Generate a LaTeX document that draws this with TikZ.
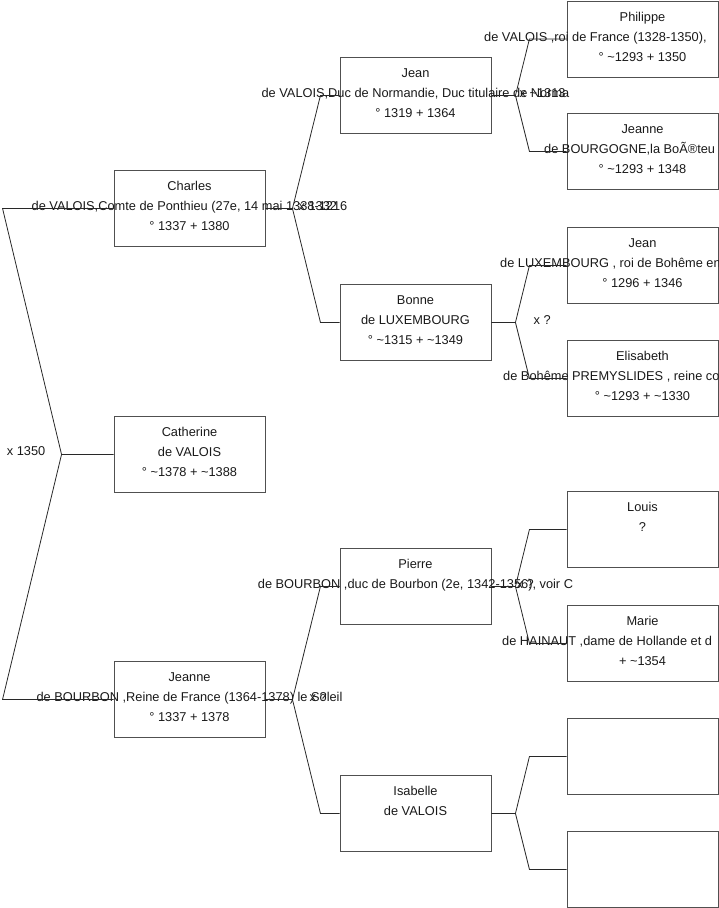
\documentclass[tikz,border=0pt]{standalone}
\usepackage{fontspec}
\setmainfont{Liberation Sans}
\usepackage{xcolor}
\usetikzlibrary{calc}
\definecolor{boxgray}{RGB}{80,80,80}
\definecolor{linkgray}{RGB}{40,40,40}
\definecolor{inkgray}{RGB}{25,25,25}
\newcommand{\abt}{\textasciitilde}

\begin{document}
\begin{tikzpicture}[
  x=1pt, y=-1pt,
  font=\fontsize{12.8}{15}\selectfont,
  person/.style={rectangle, draw=boxgray, line width=0.9pt, minimum width=151pt, minimum height=76pt, inner sep=0pt},
  txt/.style={anchor=base, inner sep=0pt, text=inkgray},
  ltxt/.style={anchor=base west, inner sep=0pt, text=inkgray},
  link/.style={draw=linkgray, line width=0.8pt}
]
  \useasboundingbox (0,0) rectangle (719,908);

  % boxes
  \foreach \nm/\cx/\tp in {charles/189.5/170, catherine/189.5/416, jeanne/189.5/661,
      jean/415.5/57, bonne/415.5/284, pierre/415.5/548, isabelle/415.5/775,
      philippe/642.5/0.5, jeanneb/642.5/113, jeanl/642.5/227, elisabeth/642.5/340,
      louis/642.5/491, marie/642.5/605, inconnua/642.5/718, inconnub/642.5/831} {
    \node[person, anchor=north] (\nm) at (\cx,\tp) {};
  }

  % first and last lines
  \foreach \nm/\la/\lc in {charles/Charles/{° 1337 + 1380}, catherine/Catherine/{° \abt1378 + \abt1388},
      jeanne/Jeanne/{° 1337 + 1378}, jean/Jean/{° 1319 + 1364}, bonne/Bonne/{° \abt1315 + \abt1349},
      philippe/Philippe/{° \abt1293 + 1350}, jeanneb/Jeanne/{° \abt1293 + 1348},
      jeanl/Jean/{° 1296 + 1346}, elisabeth/Elisabeth/{° \abt1293 + \abt1330},
      marie/Marie/{+ \abt1354}} {
    \node[txt] (\nm-a) at ([yshift=-20.5pt]\nm.north) {\la};
    \node[txt] (\nm-c) at ([yshift=-60.5pt]\nm.north) {\lc};
  }
  \node[txt] (pierre-a) at ([yshift=-20.5pt]pierre.north) {Pierre};
  \node[txt] (isabelle-a) at ([yshift=-20.5pt]isabelle.north) {Isabelle};
  \node[txt] (louis-a) at ([yshift=-20.5pt]louis.north) {Louis};

  % middle lines
  \foreach \nm/\lb in {charles/{de VALOIS,Comte de Ponthieu (27e, 14 mai 1338-1216},
      catherine/{de VALOIS}, jeanne/{de BOURBON ,Reine de France (1364-1378) le Soleil},
      jean/{de VALOIS,Duc de Normandie, Duc titulaire de Norma}, bonne/{de LUXEMBOURG},
      pierre/{de BOURBON ,duc de Bourbon (2e, 1342-1356), voir C},
      isabelle/{de VALOIS}, louis/{?}} {
    \node[txt] (\nm-b) at ([yshift=-40.5pt]\nm.north) {\lb};
  }
  \node[ltxt] (philippe-b) at (484,41) {de VALOIS ,roi de France (1328-1350),};
  \node[ltxt] (jeanneb-b) at (544,153.5) {de BOURGOGNE,la BoÃ®teu};
  \node[ltxt] (jeanl-b) at (500,267.5) {de LUXEMBOURG , roi de Bohême en 13};
  \node[ltxt] (elisabeth-b) at (503,380.5) {de Bohême PREMYSLIDES , reine conse};
  \node[ltxt] (marie-b) at (502,645.5) {de HAINAUT ,dame de Hollande et d};

  % forks
  \foreach \p/\ca/\cb/\jd/\ed in {charles/jean/bonne/27/55, jeanne/pierre/isabelle/27/55,
      jean/philippe/jeanneb/24/38, bonne/jeanl/elisabeth/24/38,
      pierre/louis/marie/24/38, isabelle/inconnua/inconnub/24/38} {
    \coordinate (\p-j) at ([xshift=\jd pt]\p.east);
    \draw[link] (\p.east) -- (\p-j) -- ([xshift=\ed pt]\p.east |- \ca.west) -- (\ca.west);
    \draw[link] (\p-j) -- ([xshift=\ed pt]\p.east |- \cb.west) -- (\cb.west);
  }
  \coordinate (root-j) at ([xshift=-52pt]catherine.west);
  \draw[link] (catherine.west) -- (root-j) -- ([xshift=-111pt]catherine.west |- charles.west) -- (charles.west);
  \draw[link] (root-j) -- ([xshift=-111pt]catherine.west |- jeanne.west) -- (jeanne.west);

  % marriages
  \node[anchor=base east, inner sep=0pt, text=inkgray] (root-m) at ([xshift=-16pt, yshift=-1.5pt]root-j) {x 1350};
  \node[ltxt] (charles-m) at ([xshift=6pt, yshift=-2.5pt]charles-j) {x 1332};
  \node[ltxt] (jeanne-m) at ([xshift=17pt, yshift=-2.5pt]jeanne-j) {x ?};
  \node[ltxt] (jean-m) at ([xshift=4pt, yshift=-2.5pt]jean-j) {x \abt1313};
  \node[ltxt] (bonne-m) at ([xshift=18pt, yshift=-2.5pt]bonne-j) {x ?};
  \node[ltxt] (pierre-m) at ([xshift=1pt, yshift=-2.5pt]pierre-j) {x ?};
\end{tikzpicture}
\end{document}
